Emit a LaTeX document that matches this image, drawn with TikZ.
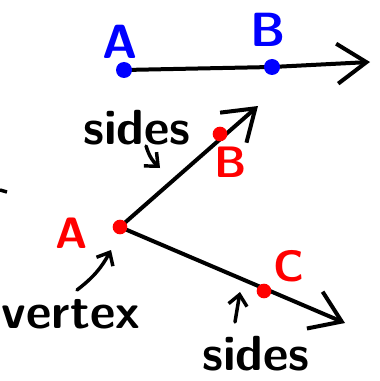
\documentclass[tikz,border=0pt]{standalone}
\usepackage{tikz}
\usetikzlibrary{positioning,arrows.meta}

\tikzset{
  ray/.style={line width=3pt, line cap=round, -{Straight Barb[length=22pt,width=30pt,line width=3pt]}},
  note/.style={line width=2.6pt, line cap=round, -{Straight Barb[length=8pt,width=14pt,line width=2.6pt]}},
  bdot/.style={circle, fill=blue, inner sep=0pt, minimum size=12pt},
  rdot/.style={circle, fill=red, inner sep=0pt, minimum size=11pt},
  blbl/.style={text=blue, font=\sffamily\bfseries\fontsize{36}{38}\selectfont},
  rlbl/.style={text=red, font=\sffamily\bfseries\fontsize{33}{35}\selectfont},
  word/.style={font=\sffamily\bfseries\fontsize{37}{39}\selectfont}
}

\begin{document}
\begin{tikzpicture}[x=0.75pt, y=-0.75pt]
\useasboundingbox (0,0) rectangle (379,381);

% line AB
\coordinate (a1) at (124,70);
\coordinate (b1) at (272,67);
\coordinate (e1) at (370,62);
\draw[ray] (a1) -- (b1) -- (e1);
\node[bdot] (pa1) at (a1) {};
\node[bdot] (pb1) at (b1) {};
\node[blbl] (la1) at (120,42) {A};
\node[blbl] (lb1) at (268,30) {B};

% angle BAC
\coordinate (v) at (120,227);
\coordinate (eb) at (258,106);
\coordinate (ec) at (345,323);
\draw[ray] (v) -- (eb);
\draw[ray] (v) -- (ec);
\node[rdot] (pv) at (v) {};
\node[rdot] (pb) at (220,134) {};
\node[rdot] (pc) at (264,291) {};
\node[rlbl] (lv) at (72,233) {A};
\node[rlbl] (lb) at (231,162) {B};
\node[rlbl] (lc) at (289,266) {C};

% notes
\node[word] (sides1) at (137,128) {sides};
\node[word] (vert) at (71,314) {vertex};
\node[word] (sides2) at (256,354) {sides};

\coordinate (s1) at (146,146);
\coordinate (t1) at (160,168);
\draw[note] (s1) to[bend right=15] (t1);

\coordinate (s2) at (77,290);
\coordinate (t2) at (111,250);
\draw[note] (s2) to[bend right=12] (t2);

\coordinate (s3) at (235,322);
\coordinate (t3) at (240,292);
\draw[note] (s3) -- (t3);

% stray mark
\coordinate (m1) at (0,190);
\coordinate (m2) at (7,192);
\draw[line width=2.6pt] (m1) -- (m2);
\end{tikzpicture}
\end{document}
